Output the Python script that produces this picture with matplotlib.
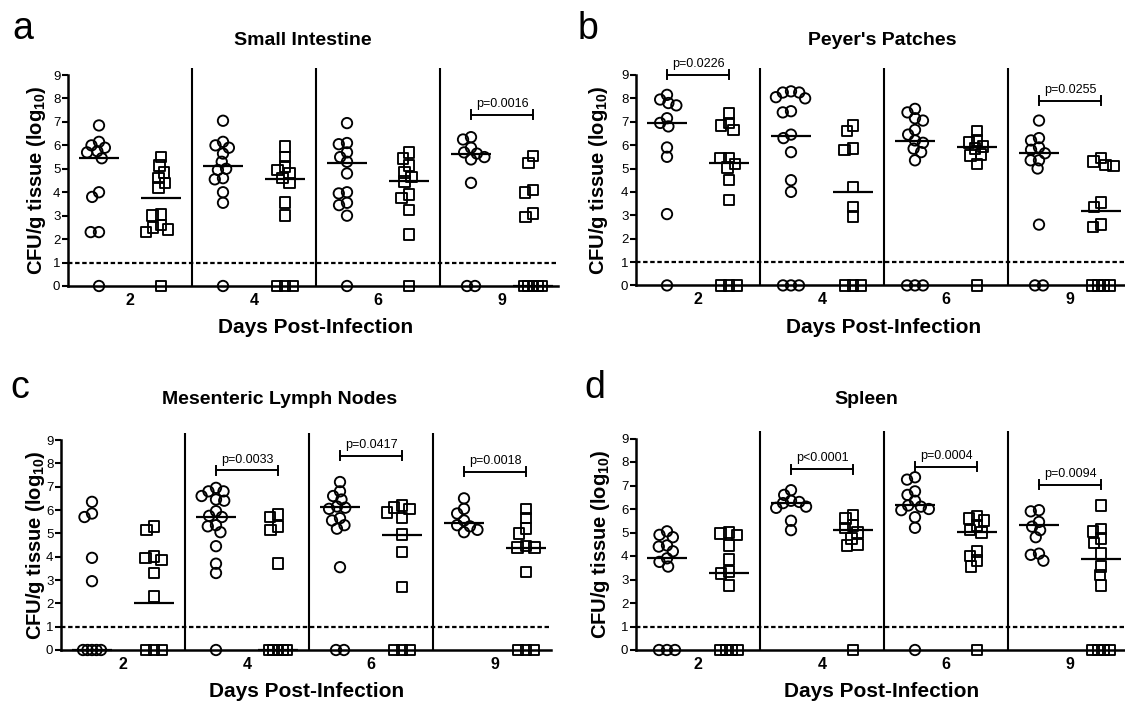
import numpy as np
import matplotlib
matplotlib.use('Agg')
import matplotlib.pyplot as plt

plt.rcParams['font.family'] = ['Liberation Sans', 'DejaVu Sans']
plt.rcParams['mathtext.fontset'] = 'custom'
plt.rcParams['mathtext.rm'] = 'Liberation Sans'
plt.rcParams['mathtext.bf'] = 'Liberation Sans:bold'
plt.rcParams['mathtext.it'] = 'Liberation Sans:italic'

# ---------------- data ----------------
days = ['2', '4', '6', '9']
panel_letters = ['a', 'b', 'c', 'd']
titles = ['Small Intestine', "Peyer's Patches", 'Mesenteric Lymph Nodes', 'Spleen']
detection_limit = 1.0

# Small intestine
si_circles = [
    [6.85, 6.15, 6.0, 5.9, 5.75, 5.7, 5.45, 4.0, 3.8, 2.3, 2.3, 0],
    [7.05, 6.15, 6.0, 5.9, 5.65, 5.3, 5.0, 4.95, 4.6, 4.55, 4.0, 3.55, 0],
    [6.95, 6.1, 6.05, 5.7, 5.5, 5.3, 4.8, 4.0, 3.95, 3.55, 3.45, 3.0, 0],
    [6.35, 6.25, 5.9, 5.7, 5.65, 5.5, 5.4, 4.4, 0, 0],
]
si_squares = [
    [5.5, 5.15, 4.85, 4.6, 4.4, 4.2, 3.05, 3.0, 2.6, 2.5, 2.4, 2.3, 0],
    [5.95, 5.5, 5.1, 4.95, 4.8, 4.6, 4.4, 3.55, 3.0, 0, 0, 0],
    [5.7, 5.45, 5.15, 4.85, 4.65, 4.45, 3.9, 3.75, 3.25, 2.2, 0],
    [5.55, 5.25, 4.1, 4.0, 3.1, 2.95, 0, 0, 0, 0, 0],
]
si_circle_median = [5.45, 5.1, 5.23, 5.63]
si_square_median = [3.75, 4.55, 4.5, 0]
si_p_day = [3]
si_p_text = ['p=0.0016']
si_p_level = [7.3]

# Peyer's patches
pp_circles = [
    [8.15, 7.95, 7.8, 7.7, 7.15, 6.95, 6.8, 5.9, 5.5, 3.05, 0],
    [8.3, 8.25, 8.25, 8.05, 8.0, 7.45, 7.4, 6.45, 6.3, 5.7, 4.5, 4.0, 0, 0, 0],
    [7.55, 7.4, 7.15, 7.05, 6.65, 6.45, 6.2, 6.1, 5.85, 5.7, 5.35, 0, 0, 0],
    [7.05, 6.3, 6.2, 5.9, 5.8, 5.65, 5.35, 5.35, 5.0, 2.6, 0, 0],
]
pp_squares = [
    [7.35, 6.95, 6.85, 6.65, 5.45, 5.45, 5.2, 5.05, 4.5, 3.65, 0, 0, 0],
    [6.85, 6.6, 5.85, 5.8, 4.2, 3.35, 2.95, 0, 0, 0],
    [6.6, 6.2, 6.1, 5.95, 5.85, 5.6, 5.55, 5.2, 0],
    [5.45, 5.3, 5.15, 5.1, 3.55, 3.35, 2.6, 2.5, 0, 0, 0, 0],
]
pp_circle_median = [6.93, 6.39, 6.17, 5.65]
pp_square_median = [5.25, 4.0, 5.9, 3.17]
pp_p_day = [0, 3]
pp_p_text = ['p=0.0226', 'p=0.0255']
pp_p_level = [9.0, 7.9]

# Mesenteric lymph nodes
mln_circles = [
    [6.35, 5.85, 5.7, 3.95, 2.95, 0, 0, 0, 0, 0],
    [6.95, 6.8, 6.8, 6.6, 6.45, 6.4, 5.95, 5.75, 5.7, 5.35, 5.3, 5.05, 4.45, 3.7, 3.3, 0],
    [7.2, 6.8, 6.6, 6.45, 6.15, 6.1, 6.05, 5.65, 5.55, 5.35, 5.2, 3.55, 0, 0],
    [6.5, 6.05, 5.85, 5.55, 5.35, 5.3, 5.15, 5.05],
]
mln_squares = [
    [5.3, 5.15, 4.0, 3.95, 3.85, 3.3, 2.3, 0, 0, 0],
    [5.8, 5.7, 5.3, 5.15, 3.7, 0, 0, 0, 0, 0],
    [6.2, 6.1, 6.05, 5.9, 5.65, 4.95, 4.2, 2.7, 0, 0, 0],
    [6.05, 5.65, 5.2, 5.0, 4.45, 4.4, 4.4, 3.35, 0, 0, 0],
]
mln_circle_median = [0, 5.71, 6.11, 5.46]
mln_square_median = [2.03, 0, 4.93, 4.36]
mln_p_day = [1, 2, 3]
mln_p_text = ['p=0.0033', 'p=0.0417', 'p=0.0018']
mln_p_level = [7.7, 8.33, 7.64]

# Spleen
sp_circles = [
    [5.05, 4.9, 4.8, 4.45, 4.4, 4.2, 3.9, 3.75, 3.55, 0, 0, 0],
    [6.8, 6.6, 6.35, 6.3, 6.25, 6.1, 6.05, 5.5, 5.1],
    [7.35, 7.25, 6.75, 6.6, 6.35, 6.15, 6.1, 6.0, 5.95, 5.65, 5.2, 0],
    [5.95, 5.9, 5.45, 5.25, 5.1, 4.8, 4.1, 4.05, 3.8],
]
sp_squares = [
    [5.0, 4.95, 4.9, 4.45, 3.85, 3.35, 3.25, 2.75, 0, 0, 0, 0],
    [5.75, 5.6, 5.3, 5.2, 5.0, 4.75, 4.5, 4.45, 0],
    [5.7, 5.6, 5.5, 5.3, 5.1, 5.0, 4.2, 4.0, 3.8, 3.55, 0],
    [6.15, 5.15, 5.05, 4.75, 4.55, 4.1, 3.55, 3.2, 2.75, 0, 0, 0, 0],
]
sp_circle_median = [3.9, 6.27, 6.17, 5.32]
sp_square_median = [3.29, 5.1, 5.04, 3.86]
sp_p_day = [1, 2, 3]
sp_p_text = ['p<0.0001', 'p=0.0004', 'p=0.0094']
sp_p_level = [7.7, 7.8, 7.04]

panels = [
    (si_circles, si_squares, si_circle_median, si_square_median, si_p_day, si_p_text, si_p_level),
    (pp_circles, pp_squares, pp_circle_median, pp_square_median, pp_p_day, pp_p_text, pp_p_level),
    (mln_circles, mln_squares, mln_circle_median, mln_square_median, mln_p_day, mln_p_text, mln_p_level),
    (sp_circles, sp_squares, sp_circle_median, sp_square_median, sp_p_day, sp_p_text, sp_p_level),
]

# ---------------- layout (pixels) ----------------
W, H = 1125, 703
fig = plt.figure(figsize=(W / 100, H / 100), dpi=100)

UX = 62.0              # px per x unit
XLIM = (-0.5, 7.4)
YTOP = 9.3
# left px, y px of value 0 (from top), px per y unit
geom = [(68, 286.0, 23.44), (636, 285.4, 23.38), (61, 650.0, 23.33), (636, 650.0, 23.5)]
letter_pos = [(12, 39), (578, 39), (10, 398), (584, 398)]
title_pos = [(303, 45), (882, 45), (280, 404), (866, 404)]
xlabel_pos = [(316, 333), (884, 333), (307, 697), (882, 697)]
ylabel_x = [37, 598, 36, 600]

D = 8.3      # min distance between marker centres in px (values above zero)
ZMAX = 8.0   # max spacing of points sitting on the axis
ZSPAN = 18.0 # max total centre spread of points on the axis


def swarm(values, uy):
    vals = np.asarray(values, dtype=float)
    offs = np.zeros(len(vals))
    zero_idx = np.where(vals <= 0)[0]
    nz = len(zero_idx)
    if nz > 1:
        dz = min(ZMAX, ZSPAN / (nz - 1))
        for j, i in enumerate(zero_idx):
            offs[i] = (j - (nz - 1) / 2) * dz / UX
    order = [i for i in np.argsort(-vals, kind='stable') if vals[i] > 0]
    placed = []
    for i in order:
        y = vals[i] * uy
        forb = []
        for px, py in placed:
            dy = abs(py - y)
            if dy < D:
                w = np.sqrt(D * D - dy * dy)
                forb.append((px - w, px + w))
        cands = [0.0] + [a for a, b in forb] + [b for a, b in forb]
        cands.sort(key=lambda c: (abs(c), c))
        x = 0.0
        for c in cands:
            if all(not (a + 1e-6 < c < b - 1e-6) for a, b in forb):
                x = c
                break
        placed.append((x, y))
        offs[i] = x / UX
    return offs


for k, (circ, sq, cmed, smed, pday, ptext, plevel) in enumerate(panels):
    left, y0, uy = geom[k]
    wpx = (XLIM[1] - XLIM[0]) * UX
    hpx = YTOP * uy
    ax = fig.add_axes([left / W, (H - y0) / H, wpx / W, hpx / H])
    ax.set_xlim(*XLIM)
    ax.set_ylim(0, YTOP)
    for s in ['top', 'right']:
        ax.spines[s].set_visible(False)
    ax.spines['left'].set_bounds(0, 9)
    ax.spines['left'].set_linewidth(1.8)
    ax.spines['bottom'].set_linewidth(1.8)
    ax.set_yticks(range(10))
    ax.tick_params(axis='y', length=4, width=1.5, pad=1.5, labelsize=9.5)
    ax.set_xticks([0.5, 2.5, 4.5, 6.5])
    ax.set_xticklabels(days, fontweight='bold', fontsize=11.5)
    ax.tick_params(axis='x', length=0, pad=5)

    ax.vlines([1.5, 3.5, 5.5], 0, YTOP, color='black', lw=1.5, clip_on=False)
    ax.axhline(detection_limit, color='black', lw=1.6, ls=(0, (2.0, 1.2)))

    for i in range(len(days)):
        xc = 2 * i
        xs = 2 * i + 1
        oc = swarm(circ[i], uy)
        os_ = swarm(sq[i], uy)
        ax.scatter(xc + oc, circ[i], s=56, marker='o', facecolors='none',
                   edgecolors='black', linewidths=1.35, clip_on=False, zorder=3)
        ax.scatter(xs + os_, sq[i], s=58, marker='s', facecolors='none',
                   edgecolors='black', linewidths=1.35, clip_on=False, zorder=3)
        for xx, m in ((xc, cmed[i]), (xs, smed[i])):
            if m is not None and not np.isnan(m):
                ax.hlines(m, xx - 0.33, xx + 0.33, color='black', lw=1.6,
                          zorder=4, clip_on=False)

    for d_i, txt, lev in zip(pday, ptext, plevel):
        x1, x2 = 2 * d_i, 2 * d_i + 1
        cap = 4.5 / uy
        ax.plot([x1, x2], [lev, lev], color='black', lw=1.4, clip_on=False)
        ax.plot([x1, x1], [lev - cap, lev + cap], color='black', lw=1.4, clip_on=False)
        ax.plot([x2, x2], [lev - cap, lev + cap], color='black', lw=1.4, clip_on=False)
        ax.annotate(txt, xy=((x1 + x2) / 2, lev), xytext=(0, 5.5),
                    textcoords='offset points', ha='center', va='baseline',
                    fontsize=9, annotation_clip=False)

    lx, ly = letter_pos[k]
    fig.text(lx / W, (H - ly) / H, panel_letters[k], fontsize=27,
             ha='left', va='baseline')
    tx, ty = title_pos[k]
    fig.text(tx / W, (H - ty) / H, titles[k], fontsize=14, fontweight='bold',
             ha='center', va='baseline')
    xx_, xy_ = xlabel_pos[k]
    fig.text(xx_ / W, (H - xy_) / H, 'Days Post-Infection', fontsize=15,
             fontweight='bold', ha='center', va='baseline')
    ymid = y0 - 4.5 * uy
    fig.text(ylabel_x[k] / W, (H - ymid) / H, r'CFU/g tissue (log$_{\mathbf{10}}$)',
             fontsize=14.5, fontweight='bold', rotation=90, ha='center', va='center')

fig.savefig('out.png', dpi=100)
